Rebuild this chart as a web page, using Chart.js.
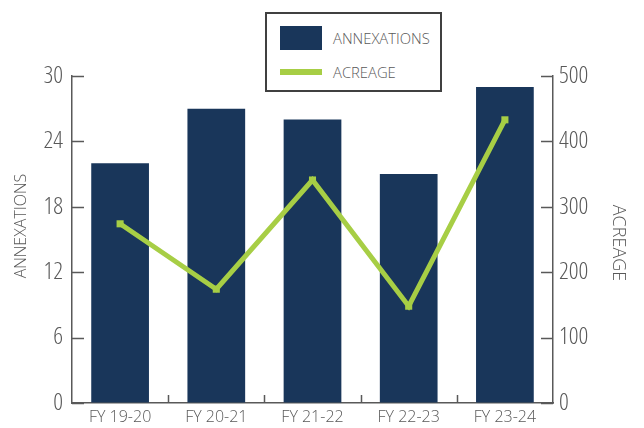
<!DOCTYPE html>
<html>
<head>
<meta charset="utf-8">
<script src="https://cdn.jsdelivr.net/npm/chart.js@4.4.0/dist/chart.umd.min.js"></script>
<style>
  html,body{margin:0;padding:0;background:#fff;}
  #wrap{position:relative;width:644px;height:428px;}
  #legend{position:absolute;left:265px;top:12px;width:173px;height:76px;border:2.5px solid #404040;background:#fff;
    font-family:"Open Sans",sans-serif;font-weight:300;font-stretch:90%;color:#595959;font-size:14.8px;}
  .item{position:absolute;left:0;height:24px;}
  .sw{position:absolute;left:13px;}
  .lbl{position:absolute;left:66px;white-space:nowrap;line-height:24px;}
</style>
</head>
<body>
<div id="wrap">
  <canvas id="c" width="644" height="428"></canvas>
  <div id="legend"></div>
</div>
<script>
const categories = ["FY 19-20", "FY 20-21", "FY 21-22", "FY 22-23", "FY 23-24"];
const annexations = [22, 27, 26, 21, 29];
const acreage = [274, 174, 341, 148, 433];
const leftTicks = [0, 6, 12, 18, 24, 30];
const rightTicks = [0, 100, 200, 300, 400, 500];
const seriesNames = ["ANNEXATIONS", "ACREAGE"];

const NAVY = "#19365a";
const GREEN = "#a7ce45";
const GRAY = "#595959";
const FONT = '"Open Sans", sans-serif';

// HTML legend
const lg = document.getElementById('legend');
lg.innerHTML =
  '<div class="item" style="top:12px;width:100%"><div class="sw" style="top:0;width:42px;height:24px;background:'+NAVY+'"></div><div class="lbl" style="top:0">'+seriesNames[0]+'</div></div>' +
  '<div class="item" style="top:46px;width:100%"><div class="sw" style="top:9px;width:42px;height:6px;background:'+GREEN+'"></div><div class="lbl" style="top:0">'+seriesNames[1]+'</div></div>';

const tickPlugin = {
  id: 'inwardTicks',
  afterDraw(chart) {
    const ctx = chart.ctx;
    const yl = chart.scales.y, yr = chart.scales.y1, x = chart.scales.x;
    const area = chart.chartArea;
    ctx.save();
    ctx.strokeStyle = GRAY;
    ctx.lineWidth = 1.5;
    ctx.beginPath();
    leftTicks.forEach(v => { const py = Math.round(yl.getPixelForValue(v)) + 0.5; ctx.moveTo(area.left, py); ctx.lineTo(area.left + 12, py); });
    rightTicks.forEach(v => { const py = Math.round(yr.getPixelForValue(v)) + 0.5; ctx.moveTo(area.right - 12, py); ctx.lineTo(area.right, py); });
    for (let i = 1; i < categories.length; i++) {
      const px = Math.round((x.getPixelForValue(i - 1) + x.getPixelForValue(i)) / 2) + 0.5;
      ctx.moveTo(px, area.bottom); ctx.lineTo(px, area.bottom - 8);
    }
    ctx.stroke();
    // axis titles
    ctx.fillStyle = GRAY;
    ctx.textAlign = 'center';
    ctx.textBaseline = 'middle';
    ctx.save();
    ctx.font = '300 16px "Open Sans", sans-serif';
    ctx.translate(21, 226);
    ctx.rotate(-Math.PI / 2);
    ctx.fillText(seriesNames[0], 0, 0);
    ctx.restore();
    ctx.save();
    ctx.font = '300 18px "Open Sans", sans-serif';
    ctx.translate(618, 243);
    ctx.rotate(Math.PI / 2);
    ctx.fillText(seriesNames[1], 0, 0);
    ctx.restore();
    ctx.restore();
  }
};

new Chart(document.getElementById('c'), {
  data: {
    labels: categories,
    datasets: [
      { type: 'line', label: seriesNames[1], data: acreage, yAxisID: 'y1', order: 0,
        borderColor: GREEN, backgroundColor: GREEN, borderWidth: 5,
        pointStyle: 'rect', pointRadius: 5, pointBorderWidth: 0, pointBackgroundColor: GREEN,
        tension: 0, fill: false },
      { type: 'bar', label: seriesNames[0], data: annexations, yAxisID: 'y', order: 1,
        backgroundColor: NAVY, barPercentage: 0.6, categoryPercentage: 1.0 }
    ]
  },
  options: {
    responsive: false,
    animation: false,
    layout: { padding: { top: 76, left: 0, right: 0, bottom: 0 } },
    plugins: { legend: { display: false }, tooltip: { enabled: false } },
    scales: {
      x: {
        grid: { display: true, drawOnChartArea: false, drawTicks: false },
        border: { display: true, color: GRAY, width: 1.5 },
        ticks: { color: GRAY, font: { family: FONT, size: 16, weight: '300' }, padding: 5, maxRotation: 0 },
        afterFit(s) { s.height = 25; }
      },
      y: {
        position: 'left', min: 0, max: 30,
        afterBuildTicks(s) { s.ticks = leftTicks.map(v => ({ value: v })); },
        grid: { drawOnChartArea: false, drawTicks: false },
        border: { display: true, color: GRAY, width: 1.5 },
        ticks: { color: GRAY, font: { family: FONT, size: 24, weight: '300 semi-condensed' }, padding: 9 },
        afterFit(s) { s.width = 72; }
      },
      y1: {
        position: 'right', min: 0, max: 500,
        afterBuildTicks(s) { s.ticks = rightTicks.map(v => ({ value: v })); },
        grid: { drawOnChartArea: false, drawTicks: false },
        border: { display: true, color: GRAY, width: 1.5 },
        ticks: { color: GRAY, font: { family: FONT, size: 24, weight: '300 semi-condensed' }, padding: 6 },
        afterFit(s) { s.width = 91; }
      }
    }
  },
  plugins: [tickPlugin]
});
</script>
</body>
</html>
